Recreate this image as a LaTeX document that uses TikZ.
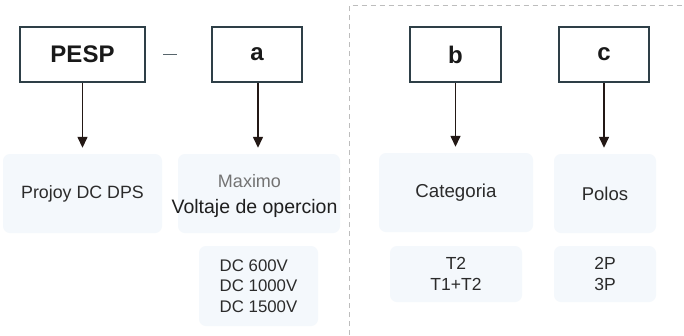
\documentclass[tikz,border=0pt]{standalone}
\usepackage{fontspec}
\setmainfont{Liberation Sans}
\usetikzlibrary{arrows.meta}
\definecolor{boxedge}{HTML}{2E3F47}
\definecolor{arrowc}{HTML}{231815}
\definecolor{lightfill}{HTML}{F4F8FC}
\definecolor{dashc}{HTML}{BDBDBD}
\definecolor{txt}{HTML}{2B2B2B}
\begin{document}
\begin{tikzpicture}[x=1pt,y=-1pt,
  codebox/.style={draw=boxedge,line width=2pt,fill=white,minimum height=55pt,inner sep=0pt,
    font=\bfseries\fontsize{24}{28}\selectfont,text=black!90},
  infobox/.style={fill=lightfill,rounded corners=7pt,inner sep=0pt,text=txt,
    font=\fontsize{17.5}{21}\selectfont,align=center},
  arr/.style={draw=arrowc,line width=1.4pt,-{Triangle[width=10pt,length=11pt]},shorten >=6pt},
  sep/.style={draw=dashc,line width=1pt,dash pattern=on 5pt off 4pt}]
\useasboundingbox (0,0) rectangle (684,335);
\fill[white] (0,0) rectangle (684,335);

% dashed separator
\coordinate (s1) at (349.5,335);
\coordinate (s2) at (349.5,5);
\coordinate (s3) at (684,5);
\draw[sep] (s1) -- (s2) -- (s3);

% top code boxes
\node[codebox,minimum width=125pt] (pesp) at (82.5,54.5) {PESP};
\node[codebox,minimum width=90pt] (a) at (257,54.5) {a};
\node[codebox,minimum width=91pt] (b) at (455.5,54.5) {b};
\node[codebox,minimum width=90pt] (c) at (604,54.5) {c};

% dash between PESP and a
\coordinate (d1) at (163,54.7);
\coordinate (d2) at (176.5,54.7);
\draw[draw=boxedge!80,line width=1.5pt] (d1) -- (d2);

% info boxes
\node[infobox,minimum width=159pt,minimum height=79pt,font=\fontsize{17.8}{21}\selectfont] (proj) at (82.5,193.5) {Projoy DC DPS};
\node[infobox,minimum width=162pt,minimum height=79pt] (max) at (259,193.5) {};
\node[text=black!55,font=\fontsize{18}{21}\selectfont,inner sep=0pt] (maxt) at (249.5,181) {Maximo};
\node[text=black!88,font=\fontsize{19.5}{23}\selectfont,inner sep=0pt] (volt) at (254.5,208) {Voltaje de opercion};
\node[infobox,minimum width=119pt,minimum height=80pt,align=left,font=\fontsize{16.8}{20.6}\selectfont] (dc) at (258.5,286) {DC 600V\\DC 1000V\\DC 1500V};

\node[infobox,minimum width=154pt,minimum height=79pt,font=\fontsize{18.7}{22}\selectfont] (cat) at (456,192.5) {Categoria};
\node[infobox,minimum width=102pt,minimum height=79pt,font=\fontsize{18.5}{22}\selectfont] (pol) at (605,193.5) {Polos};
\node[infobox,minimum width=132pt,minimum height=56pt] (t) at (456,274) {T2\\T1+T2};
\node[infobox,minimum width=102pt,minimum height=56pt] (p) at (605,274) {2P\\3P};

% arrows
\draw[arr] (pesp.south) -- (pesp.south |- proj.north);
\draw[arr] ([xshift=1pt]a.south) -- ([xshift=1pt]a.south |- max.north);
\draw[arr] (b.south) -- (b.south |- cat.north);
\draw[arr] (c.south) -- (c.south |- pol.north);
\end{tikzpicture}
\end{document}
